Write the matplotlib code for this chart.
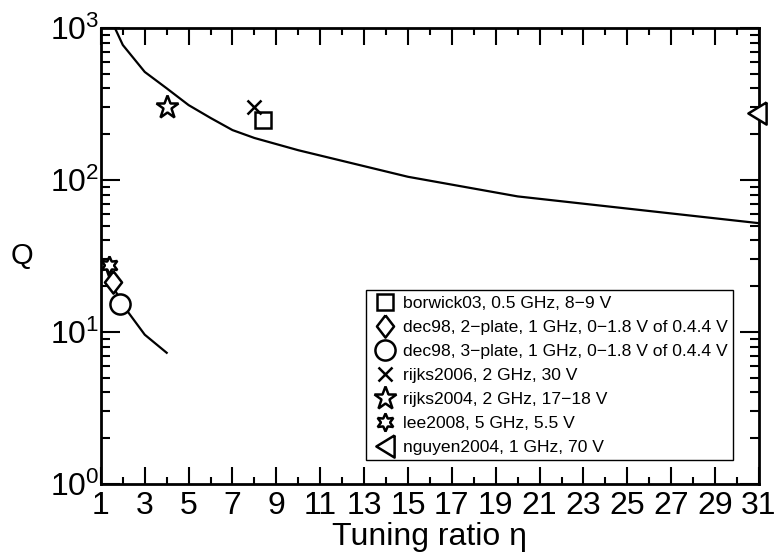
import numpy as np
import matplotlib
matplotlib.use("Agg")
import matplotlib.pyplot as plt
from matplotlib.ticker import FixedLocator, LogLocator, NullFormatter

plt.rcParams['font.family'] = ['Liberation Sans', 'DejaVu Sans']
plt.rcParams['mathtext.fontset'] = 'custom'
plt.rcParams['mathtext.rm'] = 'Liberation Sans'

# model curves
eta_hi = [1.64, 2, 3, 4, 5, 6, 7, 8, 10, 15, 20, 31]
q_hi = [1000, 773, 514, 401, 311, 256, 213, 189, 157, 105, 78, 52]
eta_lo = [1.18, 1.5, 2.1, 3, 4]
q_lo = [27.6, 20.5, 14.4, 9.6, 7.3]

# measured devices
labels = ["borwick03, 0.5 GHz, 8\u22129 V",
          "dec98, 2\u2212plate, 1 GHz, 0\u22121.8 V of 0.4.4 V",
          "dec98, 3\u2212plate, 1 GHz, 0\u22121.8 V of 0.4.4 V",
          "rijks2006, 2 GHz, 30 V",
          "rijks2004, 2 GHz, 17\u221218 V",
          "lee2008, 5 GHz, 5.5 V",
          "nguyen2004, 1 GHz, 70 V"]
eta_pts = [8.4, 1.55, 1.87, 8.0, 4.0, 1.36, 30.9]
q_pts = [250, 21.3, 15.3, 300, 300, 27.5, 275]

tall_diamond = [(0, 0.5), (0.385, 0), (0, -0.5), (-0.385, 0), (0, 0.5)]
left_tri = [(0.41, 0.5), (-0.41, 0), (0.41, -0.5), (0.41, 0.5)]
markers = ['s', tall_diamond, 'o', 'x', '*', (6, 1, 0), left_tri]
sizes = [11, 16, 14.5, 9.5, 17, 13, 16]

fig = plt.figure(figsize=(7.76, 5.6), dpi=100)
ax = fig.add_axes([0.130, 0.1357, 0.848, 0.8143])

ax.plot(eta_hi, q_hi, color='black', lw=1.6)
ax.plot(eta_lo, q_lo, color='black', lw=1.6)

for e, q, m, s, lab in zip(eta_pts, q_pts, markers, sizes, labels):
    ax.plot([e], [q], linestyle='none', marker=m, ms=s, mfc='white',
            mec='black', mew=1.8, label=lab, clip_on=False, zorder=5)

ax.set_yscale('log')
ax.set_xlim(1, 31)
ax.set_ylim(1, 1000)

ax.xaxis.set_major_locator(FixedLocator(np.arange(1, 32, 2)))
ax.xaxis.set_minor_locator(FixedLocator(np.arange(2, 31, 2)))
ax.yaxis.set_major_locator(LogLocator(base=10))
ax.yaxis.set_minor_locator(LogLocator(base=10, subs=np.arange(2, 10)))
ax.yaxis.set_minor_formatter(NullFormatter())

ax.tick_params(which='both', direction='in', top=True, right=True, width=1.5)
ax.tick_params(axis='x', which='major', length=12, pad=5, labelsize=23)
ax.tick_params(axis='x', which='minor', length=5)
ax.tick_params(axis='y', which='major', length=14, pad=1, labelsize=23)
ax.tick_params(axis='y', which='minor', length=6.5)
for sp in ax.spines.values():
    sp.set_linewidth(2)

ax.set_xlabel("Tuning ratio \u03b7", fontsize=23, labelpad=1)
ax.set_ylabel("Q", fontsize=21, rotation=0, labelpad=20, va='center')

leg = ax.legend(loc='lower right', bbox_to_anchor=(0.9605, 0.0526), fontsize=12.6,
                frameon=True, fancybox=False, edgecolor='black', framealpha=1,
                handlelength=1.5, handletextpad=0.3, borderpad=0.3,
                labelspacing=0.5, borderaxespad=0, markerscale=1.0)
leg.get_frame().set_linewidth(1.0)

fig.savefig("out.png", dpi=100)
